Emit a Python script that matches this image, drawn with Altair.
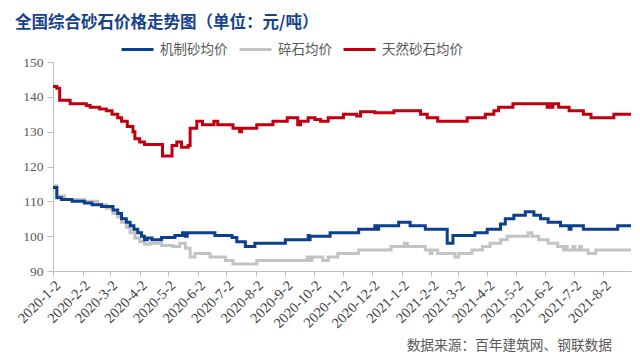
import altair as alt
import pandas as pd

title_text = "全国综合砂石价格走势图（单位：元/吨）"
source_text = "数据来源：百年建筑网、钢联数据"
series_names = ["机制砂均价", "碎石均价", "天然砂石均价"]
series_colors = ["#0d3f8f", "#c3c3c3", "#c00010"]

dates_red = ["2020-01-02","2020-01-06","2020-01-09","2020-01-20","2020-02-06","2020-02-10","2020-02-20","2020-02-27",
             "2020-03-04","2020-03-10","2020-03-14","2020-03-20","2020-03-26","2020-03-28","2020-04-02","2020-04-07",
             "2020-04-26","2020-05-06","2020-05-11","2020-05-16","2020-05-23","2020-05-25","2020-06-01","2020-06-07",
             "2020-06-19","2020-06-23","2020-07-09","2020-07-16","2020-07-18","2020-08-03","2020-08-20","2020-09-04",
             "2020-09-15","2020-09-18","2020-09-26","2020-10-03","2020-10-09","2020-10-17","2020-11-02","2020-11-16",
             "2020-11-20","2020-12-05","2020-12-25","2021-01-22","2021-01-29","2021-02-09","2021-03-12","2021-03-31",
             "2021-04-09","2021-04-14","2021-04-29","2021-06-04","2021-06-05","2021-06-07","2021-06-10","2021-06-16",
             "2021-06-27","2021-07-12","2021-07-20","2021-08-13","2021-08-31"]
vals_red = [143,142.5,139,138,137.5,137,136.5,136,
            135,134,133,131.5,130,128,127,126.3,
            123,126,127,125.5,126,131,133,132,
            133,132,131,130,131,132,133,134,
            132,133,134,133.5,133,134,135,134.5,
            135.7,135.4,136,135,134,133,134,135,
            136,137,138,137,138,137,138,137,
            136,135,134,135,135]

dates_blue = ["2020-01-02","2020-01-06","2020-01-11","2020-01-22","2020-02-04","2020-02-12","2020-02-22","2020-03-05",
              "2020-03-10","2020-03-14","2020-03-19","2020-03-23","2020-03-27","2020-03-31","2020-04-04","2020-04-07",
              "2020-04-10","2020-04-15","2020-04-25","2020-05-09","2020-05-17","2020-05-20","2020-05-22","2020-06-20",
              "2020-07-08","2020-07-13","2020-07-22","2020-08-01","2020-09-02","2020-09-26","2020-09-27","2020-09-28",
              "2020-10-19","2020-11-18","2020-12-05","2020-12-07","2020-12-09","2020-12-30","2021-01-11","2021-01-27",
              "2021-02-19","2021-02-25","2021-03-20","2021-04-02","2021-04-16","2021-04-21","2021-04-30","2021-05-12",
              "2021-05-21","2021-05-28","2021-06-05","2021-06-18","2021-06-27","2021-06-29","2021-07-12","2021-08-17",
              "2021-08-31"]
vals_blue = [114,111,110.5,110,109.5,109,108.5,107.5,
             106.5,105,104,103,102,101,100,99,
             99.5,99,99.6,100.2,101,100,101,100.2,
             99.6,98.4,97,98,99,100.2,99,100,
             101,102,103,102,103,104,103,102,
             98,100.2,101,102,103.5,105,106,107,
             106,105,104,103,102,103,102,103,
             103]

dates_gray = ["2020-01-02","2020-01-06","2020-01-14","2020-02-04","2020-02-18","2020-02-27","2020-03-05","2020-03-10",
              "2020-03-14","2020-03-19","2020-03-23","2020-03-28","2020-04-02","2020-04-07","2020-04-13","2020-04-25",
              "2020-05-07","2020-05-14","2020-05-20","2020-05-25","2020-05-30","2020-06-15","2020-07-01","2020-07-09",
              "2020-08-03","2020-09-25","2020-09-27","2020-09-30","2020-10-11","2020-10-17","2020-10-27","2020-11-18",
              "2020-12-22","2021-01-05","2021-01-08","2021-01-27","2021-02-01","2021-02-03","2021-02-09","2021-02-27",
              "2021-03-03","2021-03-17","2021-03-28","2021-04-05","2021-04-16","2021-04-23","2021-05-15","2021-05-19",
              "2021-05-26","2021-06-05","2021-06-15","2021-06-21","2021-06-23","2021-06-25","2021-07-01","2021-07-03",
              "2021-07-08","2021-07-10","2021-07-17","2021-07-25","2021-08-31"]
vals_gray = [114.5,111.5,110.5,110,109,108,106.5,105.5,
             104,102.5,101,99.5,98.5,97.7,98,97.3,
             97,98,96.5,94,95,94,93,92,
             93,94,93,94,93,94,95,96,
             97,98,97,96,95,96,95,94,
             95,96,97,98,99,100,101,100,
             99,98,97,96,97,96,97,96,
             97,96,95,96,96]

y_ticks = [90, 100, 110, 120, 130, 140, 150]
x_tick_dates = [(2020, m) for m in range(1, 13)] + [(2021, m) for m in range(1, 9)]

frames = []
for name, d, v in [(series_names[1], dates_gray, vals_gray),
                   (series_names[0], dates_blue, vals_blue),
                   (series_names[2], dates_red, vals_red)]:
    frames.append(pd.DataFrame({"date": d, "price": v, "series": name}))
df = pd.concat(frames, ignore_index=True)

x_values = [alt.DateTime(year=y, month=m, date=2, utc=True) for (y, m) in x_tick_dates]

lines = alt.Chart(df).mark_line(interpolate="step-after", strokeWidth=3).encode(
    x=alt.X("date:T",
            scale=alt.Scale(type="utc", domain=[alt.DateTime(year=2020, month=1, date=2, utc=True),
                                                alt.DateTime(year=2021, month=8, date=31, utc=True)]),
            axis=alt.Axis(title=None, values=x_values, grid=False,
                          labelExpr="utcyear(datum.value) + '-' + (utcmonth(datum.value)+1) + '-' + utcdate(datum.value)",
                          labelAngle=-45, labelAlign="right", labelBaseline="top",
                          labelFont="Liberation Serif", labelFontSize=14.5, labelColor="#404040",
                          labelPadding=2, tickSize=5, tickColor="#bfbfbf", domainColor="#bfbfbf",
                          labelOverlap=False, labelBound=False, labelFlush=False)),
    y=alt.Y("price:Q",
            scale=alt.Scale(domain=[90, 150], nice=False, zero=False),
            axis=alt.Axis(title=None, values=y_ticks, grid=False,
                          labelFont="Liberation Serif", labelFontSize=13.5, labelColor="#595959",
                          labelPadding=4, tickSize=6, tickColor="#bfbfbf", domainColor="#bfbfbf")),
    color=alt.Color("series:N",
                    scale=alt.Scale(domain=series_names, range=series_colors),
                    legend=alt.Legend(title=None, orient="none", direction="horizontal",
                                      legendX=67, legendY=-30, symbolType="stroke",
                                      symbolSize=1024, symbolStrokeWidth=3,
                                      labelFont="Noto Sans CJK SC", labelFontSize=13.5, labelColor="#595959",
                                      labelOffset=5, columnPadding=5)),
)

title_df = pd.DataFrame({"t": [title_text]})
title = alt.Chart(title_df).mark_text(
    align="left", baseline="middle", font="Noto Sans CJK SC", fontSize=16.5,
    fontWeight="bold", color="#17428c"
).encode(text="t:N", x=alt.value(-38), y=alt.value(-39))

src_df = pd.DataFrame({"t": [source_text]})
source = alt.Chart(src_df).mark_text(
    align="right", baseline="middle", font="Noto Sans CJK SC", fontSize=13.7, color="#595959"
).encode(text="t:N", x=alt.value(559), y=alt.value(284))

chart = alt.layer(lines, title, source).properties(
    width=578, height=209,
    autosize=alt.AutoSizeParams(type="none"),
    padding={"left": 45, "top": 54, "right": 1, "bottom": 82},
    background="white",
).configure_view(stroke=None)

chart.save("out.html", embed_options={"renderer": "svg", "actions": False})
